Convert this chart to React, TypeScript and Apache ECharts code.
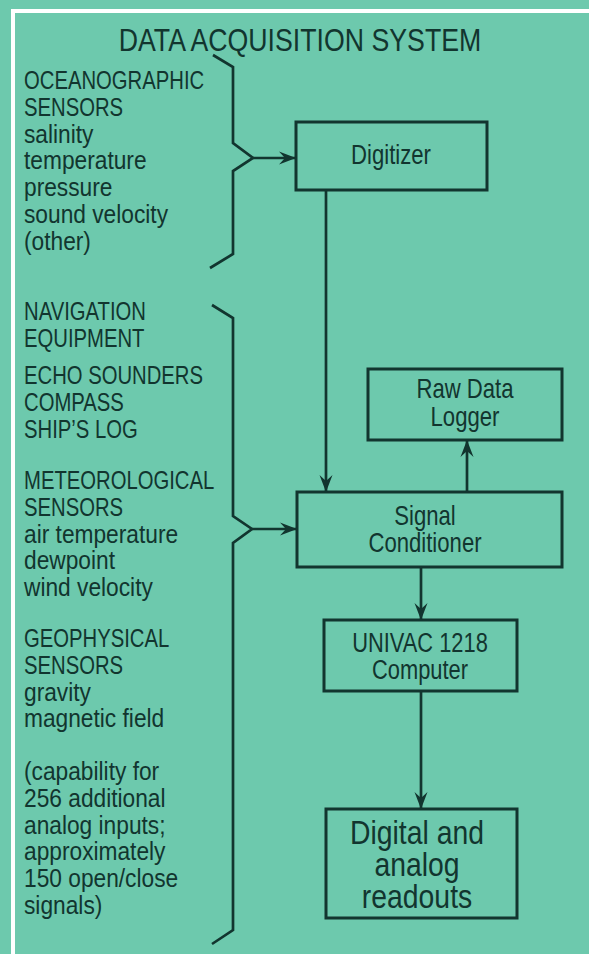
import React, { useEffect, useRef } from "react";
import * as echarts from "echarts";

// ---- content ----
const title = "DATA ACQUISITION SYSTEM";
const oceanLines = ["OCEANOGRAPHIC", "SENSORS", "salinity", "temperature", "pressure", "sound velocity", "(other)"];
const navLines = ["NAVIGATION", "EQUIPMENT"];
const shipLines = ["ECHO SOUNDERS", "COMPASS", "SHIP’S LOG"];
const meteoLines = ["METEOROLOGICAL", "SENSORS", "air temperature", "dewpoint", "wind velocity"];
const geoLines = ["GEOPHYSICAL", "SENSORS", "gravity", "magnetic field"];
const capLines = ["(capability for", "256 additional", "analog inputs;", "approximately", "150 open/close", "signals)"];
const digitizerLabel = ["Digitizer"];
const loggerLabel = ["Raw Data", "Logger"];
const conditionerLabel = ["Signal", "Conditioner"];
const computerLabel = ["UNIVAC 1218", "Computer"];
const readoutLabel = ["Digital and", "analog", "readouts"];

// ---- layout & style ----
const BG = "#6dc9ad";
const INK = "#12352f";
const FONT = '"Liberation Sans", Arial, sans-serif';
const PITCH = 26.8;

function App() {
  const ref = useRef<HTMLDivElement>(null);
  useEffect(() => {
    document.body.style.margin = "0";
    if (!ref.current) return;
    const chart = echarts.init(ref.current, null, { renderer: "svg" });
    const els: any[] = [];

    const text = (s: string, x: number, y: number, size: number, align = "left", sx = 0.8) => {
      els.push({
        type: "text",
        x,
        y,
        scaleX: sx,
        style: {
          text: s,
          fill: INK,
          font: `${size}px ${FONT}`,
          lineHeight: Math.round(size * 0.82),
          textAlign: align,
          textVerticalAlign: "middle",
        },
      });
    };
    const poly = (pts: number[][], w = 2.7) => {
      els.push({ type: "polyline", shape: { points: pts }, style: { stroke: INK, lineWidth: w, fill: null, lineJoin: "miter" } });
    };
    const rect = (x: number, y: number, w: number, h: number) => {
      els.push({ type: "rect", shape: { x, y, width: w, height: h }, style: { stroke: INK, lineWidth: 3, fill: null } });
    };
    const head = (tx: number, ty: number, dx: number, dy: number) => {
      const L = 17, W = 6.5;
      const px = -dy, py = dx;
      const bx = tx - dx * L, by = ty - dy * L;
      els.push({
        type: "polygon",
        shape: {
          points: [
            [tx, ty],
            [bx + px * W, by + py * W],
            [tx - dx * L * 0.65, ty - dy * L * 0.65],
            [bx - px * W, by - py * W],
          ],
        },
        style: { fill: INK },
      });
    };
    const arrow = (x1: number, y1: number, x2: number, y2: number) => {
      poly([[x1, y1], [x2, y2]], 2.7);
      const len = Math.hypot(x2 - x1, y2 - y1);
      head(x2, y2, (x2 - x1) / len, (y2 - y1) / len);
    };
    const lines = (arr: string[], x: number, y0: number, size: number, pitch: number, align = "left", sx = 0.8) => {
      arr.forEach((s, i) => text(s, x, y0 + i * pitch, size, align, sx));
    };
    const listLines = (arr: string[], x: number, y0: number) => {
      arr.forEach((s, i) => text(s, x, y0 + i * PITCH, 26, "left", s === s.toUpperCase() ? 0.78 : 0.875));
    };

    // white frame
    els.push({ type: "rect", shape: { x: 11, y: 9, width: 600, height: 4 }, style: { fill: "#ffffff" } });
    els.push({ type: "rect", shape: { x: 11, y: 9, width: 4, height: 960 }, style: { fill: "#ffffff" } });

    // title
    text(title, 300, 40, 32, "center", 0.835);

    // left lists
    const LX = 24;
    listLines(oceanLines, LX, 80);
    listLines(navLines, LX, 311);
    listLines(shipLines, LX, 375);
    listLines(meteoLines, LX, 480);
    listLines(geoLines, LX, 638);
    listLines(capLines, LX, 771);

    // braces
    poly([[213, 55], [233, 67], [233, 143], [253, 158], [233, 171], [233, 254], [210, 268]]);
    poly([[212, 305], [233, 318], [233, 516], [252, 529], [233, 543], [233, 930], [212, 944]]);

    // boxes
    rect(296, 122, 191, 68);
    lines(digitizerLabel, 391, 155, 27, 27, "center", 0.82);
    rect(368, 369, 194, 71);
    lines(loggerLabel, 465, 389, 27, 28, "center", 0.82);
    rect(297, 492, 265, 75);
    lines(conditionerLabel, 425, 516, 27, 27, "center", 0.82);
    rect(324, 620, 193, 71);
    lines(computerLabel, 420, 643, 27, 27, "center", 0.81);
    rect(326, 809, 191, 109);
    lines(readoutLabel, 417, 833, 33, 32, "center", 0.86);

    // arrows
    arrow(253, 158, 296, 158);
    arrow(326, 190, 326, 492);
    arrow(252, 529, 297, 529);
    arrow(467, 492, 467, 440);
    arrow(421, 567, 421, 620);
    arrow(421, 691, 421, 809);

    chart.setOption({ animation: false, backgroundColor: BG, graphic: { elements: els } });
    return () => chart.dispose();
  }, []);
  return <div ref={ref} style={{ width: 589, height: 954 }} />;
}

export default App;
